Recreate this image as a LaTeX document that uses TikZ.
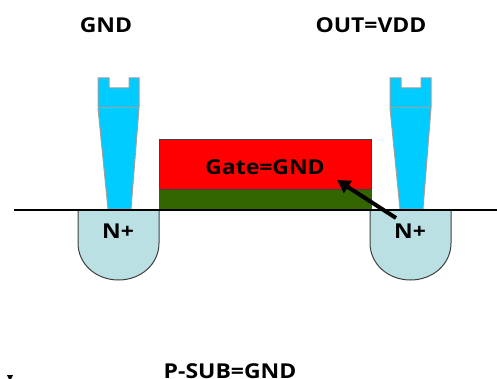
\documentclass[tikz,border=0pt]{standalone}
\usepackage{fontspec}
\usetikzlibrary{arrows.meta}
\setmainfont[FakeStretch=1.12]{Open Sans}
\definecolor{contactblue}{HTML}{00CCFF}
\definecolor{contactedge}{HTML}{A0A0A0}
\definecolor{gatered}{HTML}{FF0000}
\definecolor{oxide}{HTML}{336600}
\definecolor{wellfill}{HTML}{BBE0E3}
\definecolor{welledge}{HTML}{404040}
\tikzset{
  lab/.style={font=\fontsize{20.5}{22}\selectfont\bfseries, text=black, inner sep=0pt, anchor=base},
  contact/.style={fill=contactblue, draw=contactedge, line width=1pt, line join=miter},
  wellshape/.style={fill=wellfill, draw=welledge, line width=1pt},
}
\newcommand{\contactat}[1]{%
  \begin{scope}[shift={(#1,0)}]
    \draw[contact] (0,78) -- (11,78) -- (11,88) -- (31,88) -- (31,78) -- (41,78) -- (41,108) -- (33,209) -- (10,209) -- (0,108) -- cycle;
    \draw[contact, fill=none] (0,108) -- (41,108);
  \end{scope}}
\newcommand{\wellat}[1]{%
  \begin{scope}[shift={(#1,0)}]
    \draw[wellshape] (0,210) -- (0,243) .. controls (0,264) and (18,280) .. (40.5,280) .. controls (63,280) and (81,264) .. (81,243) -- (81,210);
  \end{scope}}
\begin{document}
\begin{tikzpicture}[x=1pt,y=-1pt]
\useasboundingbox (0,0) rectangle (497,379);
\contactat{98}
\contactat{390}
\wellat{78}
\wellat{370}
\draw[fill=oxide, draw=none] (159,189) rectangle (372,209);
\node[rectangle, draw=black!75, fill=gatered, line width=1pt, minimum width=212pt, minimum height=50pt, inner sep=0pt, anchor=north west] (gate) at (159,139) {};
\coordinate (left) at (14,210);
\coordinate (right) at (497,210);
\draw[line width=1.6pt] (left) -- (right);
\node[lab] (gnd) at (106,32.5) {GND};
\node[lab] (out) at (371,32.5) {OUT=VDD};
\node[lab] (g) at (265,175) {Gate=GND};
\node[lab] (n1) at (118,238) {N+};
\node[lab] (n2) at (410,238) {N+};
\node[lab] (sub) at (230,378) {P-SUB=GND};
\coordinate (tail) at (396,218);
\coordinate (tip) at (337,180);
\draw[line width=4pt, -{Triangle[length=13pt,width=14pt]}] (tail) -- (tip);
\fill (7,375) -- (13,375) -- (11,379) -- (9,379) -- cycle;
\end{tikzpicture}
\end{document}
